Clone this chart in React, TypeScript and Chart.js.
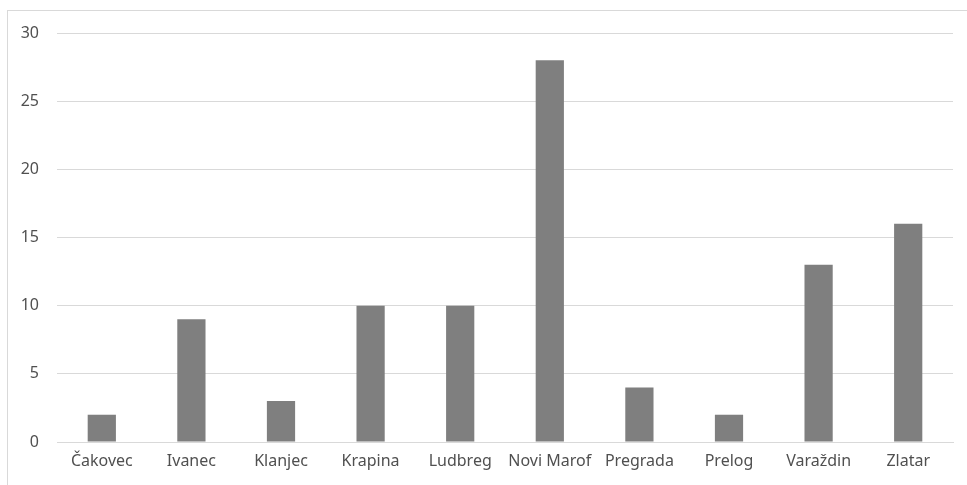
import { useEffect, useRef } from 'react';
import { Chart, registerables } from 'chart.js';

Chart.register(...registerables);

const towns = ['Čakovec', 'Ivanec', 'Klanjec', 'Krapina', 'Ludbreg', 'Novi Marof', 'Pregrada', 'Prelog', 'Varaždin', 'Zlatar'];
const counts = [2, 9, 3, 10, 10, 28, 4, 2, 13, 16];
const yTicks = [0, 5, 10, 15, 20, 25, 30];

const textColor = '#505050';
const gridColor = '#d9d9d9';
const barColor = '#7f7f7f';

export default function App() {
  const canvasRef = useRef<HTMLCanvasElement | null>(null);
  const chartInstance = useRef<Chart | null>(null);

  useEffect(() => {
    if (!canvasRef.current) return;

    chartInstance.current = new Chart(canvasRef.current, {
      type: 'bar',
      data: {
        labels: towns,
        datasets: [{
          data: counts,
          backgroundColor: barColor,
          borderWidth: 0,
          categoryPercentage: 1,
          barPercentage: 0.315
        }]
      },
      options: {
        responsive: false,
        animation: false,
        layout: { padding: { left: 0, top: 33, right: 14, bottom: 0 } },
        plugins: {
          legend: { display: false },
          tooltip: { enabled: false }
        },
        scales: {
          x: {
            grid: { display: false, drawTicks: false },
            border: { color: gridColor, width: 1 },
            ticks: {
              color: textColor,
              padding: 10,
              maxRotation: 0,
              autoSkip: false,
              font: { family: 'Noto Sans', size: 16 }
            },
            afterFit: (scale: any) => { scale.height = 43; }
          },
          y: {
            min: 0,
            max: 30,
            grid: { color: gridColor, drawTicks: false },
            border: { display: false },
            afterBuildTicks: (scale: any) => { scale.ticks = yTicks.map(v => ({ value: v })); },
            ticks: {
              color: textColor,
              padding: 18,
              font: { family: 'Noto Sans', size: 16 }
            },
            afterFit: (scale: any) => { scale.width = 57; }
          }
        }
      }
    });

    return () => {
      if (chartInstance.current) {
        chartInstance.current.destroy();
        chartInstance.current = null;
      }
    };
  }, []);

  return (
    <div style={{ position: 'fixed', left: 0, top: 0, width: 967, height: 485, overflow: 'hidden', background: '#fff' }}>
      <div style={{ position: 'absolute', left: 7, top: 10, width: 2000, height: 2000, border: `1px solid ${gridColor}` }} />
      <canvas ref={canvasRef} width={967} height={485} style={{ position: 'absolute', left: 0, top: 0 }} />
    </div>
  );
}
